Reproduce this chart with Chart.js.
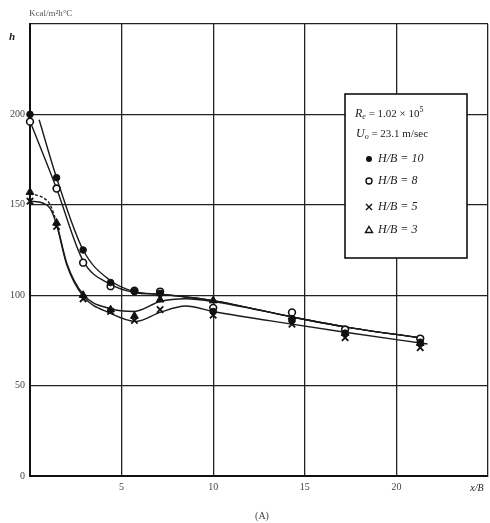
<!DOCTYPE html>
<html>
<head>
<meta charset="utf-8">
<script src="https://cdn.jsdelivr.net/npm/chart.js@4/dist/chart.umd.min.js"></script>
<style>
html,body{margin:0;padding:0;background:#fff;}
#wrap{width:490px;height:523px;}
</style>
</head>
<body>
<div id="wrap"><canvas id="c" width="490" height="523"></canvas></div>
<script>
// ---- data ----
const xStations = [0, 1.45, 2.9, 4.4, 5.7, 7.1, 10, 14.3, 17.2, 21.3];
const hHB10 = [200, 165, 125, 107, 102, 101, 91, 86, 79, 74];
const hHB8  = [196, 159, 118, 105, 102.5, 102, 93, 90.5, 81, 76];
const hHB5  = [152, 138, 98, 91, 86, 92, 89, 84, 76.5, 71];
const hHB3  = [157, 140, 100, 92, 88.5, 97.5, 97, 88, 79, 73.5];

// hand-drawn fitted curves
const curve10X = [0.5, 1.45, 2.9, 4.4, 5.7, 7.1, 8.5, 10, 14.3, 17.2, 21.2];
const curve10Y = [197, 165, 125, 108, 102, 100.5, 99, 97, 88, 82.5, 76.5];
const curve8X  = [0.05, 1.45, 2.9, 4.4, 5.7, 7.1, 8.5, 10, 14.3, 17.2, 21.2];
const curve8Y  = [195, 159, 119, 106, 101.5, 100.5, 99, 97, 88, 82.5, 76.5];
const curve3X  = [0, 0.7, 1.1, 1.45, 2.0, 2.9, 4.4, 5.7, 7.1, 8.5, 10, 14.3, 17.2, 21.2];
const curve3Y  = [156, 154, 150, 140, 118, 100.5, 92.5, 91, 96.5, 98, 96.5, 88, 82.5, 76.5];
const curve5X  = [0, 0.7, 1.1, 1.45, 2.0, 2.9, 4.4, 5.8, 7.1, 8.5, 10, 14.3, 17.2, 21.7];
const curve5Y  = [152, 151, 148, 139, 117, 99.5, 90, 85.5, 90.5, 94, 91, 84, 79.5, 73];

const yTicks = [0, 50, 100, 150, 200];
const xTicks = [5, 10, 15, 20];
const seriesLabels = ['H/B = 10', 'H/B = 8', 'H/B = 5', 'H/B = 3'];
const xAxisTitle = 'x/B';
const yAxisTitle = 'h';
const unitLabel = 'Kcal/m²h°C';
const reLabel = ['R', 'e', ' = 1.02 × 10', '5'];
const uLabel = ['U', 'o', ' = 23.1 m/sec'];
const caption = '(A)';

const pts = (xs, ys) => xs.map((x, i) => ({x: x, y: ys[i]}));
const INK = '#111';

const markerSets = [
  {label: seriesLabels[0], data: pts(xStations, hHB10), pointStyle: 'circle', pointRadius: 3.3, backgroundColor: INK, borderColor: INK, pointBorderWidth: 1},
  {label: seriesLabels[1], data: pts(xStations, hHB8), pointStyle: 'circle', pointRadius: 3.4, backgroundColor: '#fff', borderColor: INK, pointBorderWidth: 1.6},
  {label: seriesLabels[2], data: pts(xStations, hHB5), pointStyle: 'crossRot', pointRadius: 4.5, backgroundColor: INK, borderColor: INK, pointBorderWidth: 1.8},
  {label: seriesLabels[3], data: pts(xStations, hHB3), pointStyle: 'triangle', pointRadius: 4.5, backgroundColor: INK, borderColor: INK, pointBorderWidth: 1}
].map(d => Object.assign({type: 'scatter', showLine: false, order: 0, pointHoverRadius: d.pointRadius, clip: false}, d));

const curveSets = [
  {label: 'fit 10', data: pts(curve10X, curve10Y)},
  {label: 'fit 8', data: pts(curve8X, curve8Y)},
  {label: 'fit 5', data: pts(curve5X, curve5Y)},
  {label: 'fit 3', data: pts(curve3X, curve3Y), segment: {borderDash: c => c.p0DataIndex < 3 ? [3, 2] : undefined}}
].map(d => Object.assign({type: 'line', order: 1, borderColor: '#1a1a1a', borderWidth: 1.4, pointRadius: 0, fill: false, cubicInterpolationMode: 'monotone'}, d));

const decor = {
  id: 'decor',
  afterDraw(chart) {
    const ctx = chart.ctx;
    ctx.save();
    ctx.fillStyle = '#222';
    ctx.textBaseline = 'middle';
    // axis titles
    ctx.font = 'italic bold 11px "Liberation Serif", serif';
    ctx.textAlign = 'left';
    ctx.fillText(yAxisTitle, 9, 37);
    ctx.font = '9px "Liberation Serif", serif';
    ctx.fillStyle = '#555';
    ctx.fillText(unitLabel, 29, 14);
    ctx.fillStyle = '#222';
    ctx.font = 'italic 10px "Liberation Serif", serif';
    ctx.textAlign = 'center';
    ctx.fillText(xAxisTitle, 477, 488);
    ctx.font = '10px "Liberation Serif", serif';
    ctx.fillStyle = '#444';
    ctx.fillText(caption, 262, 516);

    // legend box
    const bx = 345, by = 94, bw = 122, bh = 164;
    ctx.fillStyle = '#fff';
    ctx.fillRect(bx, by, bw, bh);
    ctx.strokeStyle = INK;
    ctx.lineWidth = 1.6;
    ctx.strokeRect(bx, by, bw, bh);

    ctx.fillStyle = '#222';
    ctx.textAlign = 'left';
    // Re line
    let x = 355, y = 114;
    ctx.font = 'italic 12px "Liberation Serif", serif';
    ctx.fillText(reLabel[0], x, y); x += ctx.measureText(reLabel[0]).width;
    ctx.font = 'italic 8px "Liberation Serif", serif';
    ctx.fillText(reLabel[1], x, y + 3); x += ctx.measureText(reLabel[1]).width;
    ctx.font = '11px "Liberation Serif", serif';
    ctx.fillText(reLabel[2], x, y); x += ctx.measureText(reLabel[2]).width;
    ctx.font = '8px "Liberation Serif", serif';
    ctx.fillText(reLabel[3], x, y - 4);
    // U line
    x = 356; y = 134;
    ctx.font = 'italic 12px "Liberation Serif", serif';
    ctx.fillText(uLabel[0], x, y); x += ctx.measureText(uLabel[0]).width;
    ctx.font = 'italic 8px "Liberation Serif", serif';
    ctx.fillText(uLabel[1], x, y + 3); x += ctx.measureText(uLabel[1]).width;
    ctx.font = '11px "Liberation Serif", serif';
    ctx.fillText(uLabel[2], x, y);

    // series rows
    const rows = [159, 181, 207, 230];
    chart.data.datasets.filter(d => d.type === 'scatter').forEach((d, i) => {
      const my = rows[i], mx = 369;
      ctx.lineWidth = 1.4;
      ctx.strokeStyle = INK;
      ctx.fillStyle = INK;
      ctx.beginPath();
      if (d.pointStyle === 'circle' && d.backgroundColor === INK) {
        ctx.arc(mx, my, 3, 0, Math.PI * 2); ctx.fill();
      } else if (d.pointStyle === 'circle') {
        ctx.arc(mx, my, 3, 0, Math.PI * 2); ctx.stroke();
      } else if (d.pointStyle === 'crossRot') {
        ctx.moveTo(mx - 3, my - 3); ctx.lineTo(mx + 3, my + 3);
        ctx.moveTo(mx + 3, my - 3); ctx.lineTo(mx - 3, my + 3); ctx.stroke();
      } else {
        ctx.moveTo(mx, my - 3.5); ctx.lineTo(mx + 3.5, my + 2.5); ctx.lineTo(mx - 3.5, my + 2.5); ctx.closePath(); ctx.stroke();
      }
      ctx.fillStyle = '#222';
      ctx.font = 'italic 12px "Liberation Serif", serif';
      ctx.fillText(d.label, 378, my);
    });
    ctx.restore();
  }
};

new Chart(document.getElementById('c'), {
  data: {datasets: [...markerSets, ...curveSets]},
  options: {
    responsive: false,
    devicePixelRatio: 1,
    animation: false,
    layout: {autoPadding: false, padding: {top: 24, right: 2, left: 0, bottom: 0}},
    plugins: {legend: {display: false}, tooltip: {enabled: false}},
    scales: {
      x: {
        type: 'linear', min: 0, max: 25,
        afterBuildTicks: s => { s.ticks = [0, ...xTicks, 25].map(v => ({value: v})); },
        afterFit: s => { s.height = 47; s.paddingRight = 0; s.paddingLeft = 0; },
        ticks: {padding: 5, color: '#444', font: {family: '"Liberation Serif", serif', size: 10},
                callback: v => xTicks.includes(v) ? String(v) : ''},
        grid: {color: '#222', lineWidth: 1.3, drawTicks: false},
        border: {color: INK, width: 2}
      },
      y: {
        type: 'linear', min: 0, max: 250,
        afterBuildTicks: s => { s.ticks = [...yTicks, 250].map(v => ({value: v})); },
        afterFit: s => { s.width = 30; s.paddingTop = 0; s.paddingBottom = 0; },
        ticks: {padding: 5, color: '#444', font: {family: '"Liberation Serif", serif', size: 10},
                callback: v => yTicks.includes(v) ? String(v) : ''},
        grid: {color: '#222', lineWidth: 1.3, drawTicks: false},
        border: {color: INK, width: 2}
      }
    }
  },
  plugins: [decor]
});
</script>
</body>
</html>
